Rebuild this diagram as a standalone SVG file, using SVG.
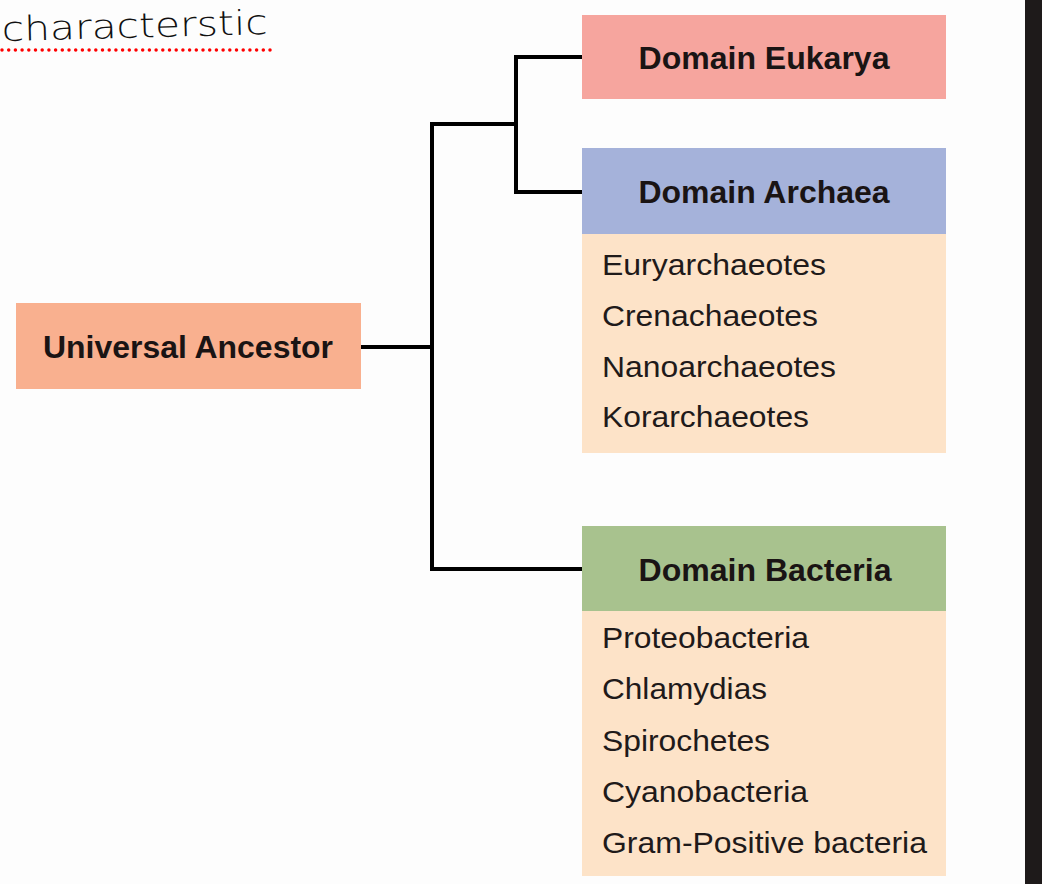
<svg xmlns="http://www.w3.org/2000/svg" width="1042" height="884" viewBox="0 0 1042 884">
<style>
.title{font-family:"Liberation Sans",Arial,sans-serif;font-weight:bold;font-size:31px;fill:#1a1414;text-anchor:middle}
.item{font-family:"Liberation Sans",Arial,sans-serif;font-size:30px;fill:#1f1a1a}
.conn{stroke:#000;stroke-width:4;fill:none;stroke-linecap:square}
.hand{font-family:"DejaVu Sans","Liberation Sans",sans-serif;font-size:34px;font-weight:200;fill:#111}
</style>
<rect x="0" y="0" width="1042" height="884" fill="#fdfdfd"/>
<rect x="1025" y="0" width="17" height="884" fill="#1e1a1a"/>
<g id="note">
<text class="hand" x="2" y="41" transform="rotate(-1.5 2 41)" textLength="266" lengthAdjust="spacingAndGlyphs">characterstic</text>
<line x1="2" y1="50" x2="270" y2="50" stroke="#ff0000" stroke-width="3.5" stroke-linecap="round" stroke-dasharray="0 6.7"/>
</g>
<g id="connectors">
<polyline class="conn" points="362,347 432,347"/>
<polyline class="conn" points="516,124 432,124 432,569 581,569"/>
<polyline class="conn" points="581,57 516,57 516,192 581,192"/>
</g>
<g id="universal-ancestor">
<rect x="16" y="303" width="345" height="86" fill="#f9b08f"/>
<text class="title" x="188" y="358" textLength="290" lengthAdjust="spacingAndGlyphs">Universal Ancestor</text>
</g>
<g id="eukarya">
<rect x="582" y="15" width="364" height="84" fill="#f6a59e"/>
<text class="title" x="764" y="69" textLength="251" lengthAdjust="spacingAndGlyphs">Domain Eukarya</text>
</g>
<g id="archaea">
<rect x="582" y="234" width="364" height="219" fill="#fde3c8"/>
<rect x="582" y="148" width="364" height="86" fill="#a5b2da"/>
<text class="title" x="764" y="203" textLength="251" lengthAdjust="spacingAndGlyphs">Domain Archaea</text>
<text class="item" x="602" y="275" textLength="224" lengthAdjust="spacingAndGlyphs">Euryarchaeotes</text>
<text class="item" x="602" y="326" textLength="216" lengthAdjust="spacingAndGlyphs">Crenachaeotes</text>
<text class="item" x="602" y="377" textLength="234" lengthAdjust="spacingAndGlyphs">Nanoarchaeotes</text>
<text class="item" x="602" y="427" textLength="207" lengthAdjust="spacingAndGlyphs">Korarchaeotes</text>
</g>
<g id="bacteria">
<rect x="582" y="610" width="364" height="266" fill="#fde3c8"/>
<rect x="582" y="526" width="364" height="85" fill="#a8c28e"/>
<text class="title" x="765" y="581" textLength="253" lengthAdjust="spacingAndGlyphs">Domain Bacteria</text>
<text class="item" x="602" y="648" textLength="207" lengthAdjust="spacingAndGlyphs">Proteobacteria</text>
<text class="item" x="602" y="699" textLength="165" lengthAdjust="spacingAndGlyphs">Chlamydias</text>
<text class="item" x="602" y="751" textLength="168" lengthAdjust="spacingAndGlyphs">Spirochetes</text>
<text class="item" x="602" y="802" textLength="206" lengthAdjust="spacingAndGlyphs">Cyanobacteria</text>
<text class="item" x="602" y="853" textLength="325" lengthAdjust="spacingAndGlyphs">Gram-Positive bacteria</text>
</g>
</svg>
